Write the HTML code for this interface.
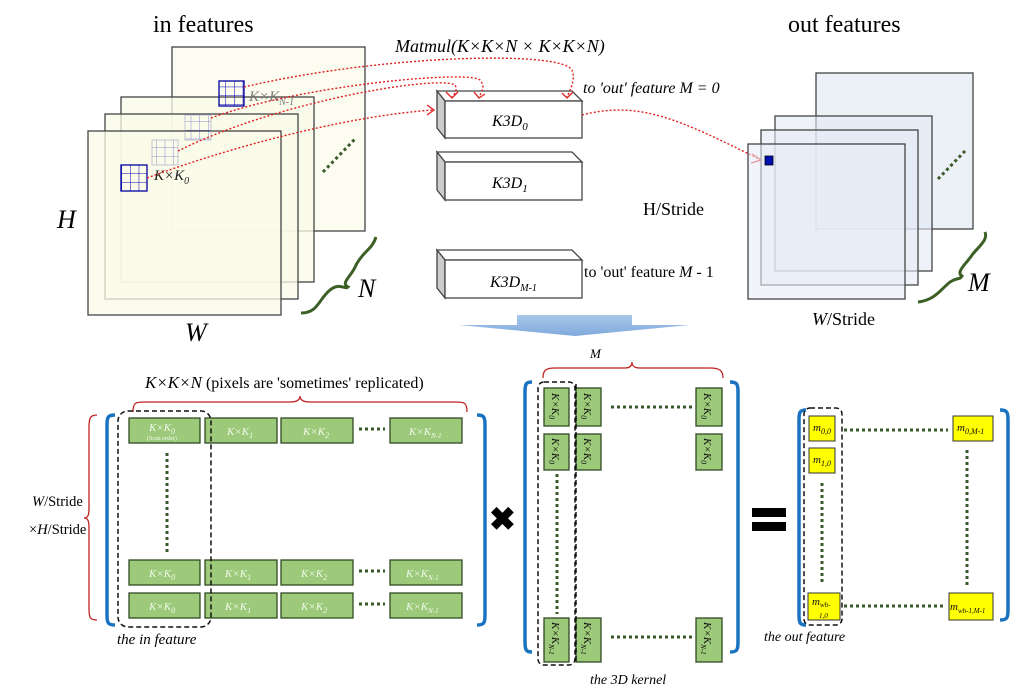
<!DOCTYPE html>
<html><head><meta charset="utf-8"><style>
html,body{margin:0;padding:0;background:#fff}
svg{display:block}
text{font-family:"Liberation Serif",serif}
.it{font-style:italic}
.gb{fill:#9cc97a;stroke:#2f4a22;stroke-width:1.3}
.gt{fill:#f4fbee;font-size:11px;font-style:italic}
.yb{fill:#ffff00;stroke:#333;stroke-width:1}
.dots{stroke:#3a5a2a;stroke-width:3;stroke-dasharray:3 3;fill:none}
.red{stroke:#e02020;stroke-width:1.4;stroke-dasharray:2 2;fill:none}
.blue{stroke:#1a73c0;stroke-width:3.5;fill:none}
.dash{stroke:#111;stroke-width:1.5;stroke-dasharray:5 3;fill:none}
</style></head><body>
<svg width="1030" height="696" viewBox="0 0 1030 696" xmlns="http://www.w3.org/2000/svg">
<defs>
<linearGradient id="ag" x1="0" y1="0" x2="0" y2="1"><stop offset="0" stop-color="#a9c8ea"/><stop offset="1" stop-color="#7fa9dc"/></linearGradient>
<pattern id="grid" width="8.67" height="8.67" patternUnits="userSpaceOnUse"><path d="M0 0H8.67M0 0V8.67" stroke="#0000b0" stroke-width="1" fill="none"/></pattern>
</defs>

<text x="153" y="32" font-size="24">in features</text>
<g stroke="#444" stroke-width="1.3">
<rect x="172" y="47" width="193" height="184" fill="#fbfbee" fill-opacity="0.8"/>
<rect x="121" y="97" width="193" height="185" fill="#fbfbe8" fill-opacity="0.75"/>
<rect x="105" y="114" width="193" height="185" fill="#fbfbe8" fill-opacity="0.75"/>
<rect x="88" y="131" width="193" height="184" fill="#fbfbe8" fill-opacity="0.75"/>
</g>
<rect x="219" y="81" width="25" height="25" fill="url(#grid)" stroke="#0000a0" stroke-width="1.3"/>
<rect x="185" y="115" width="26" height="25" fill="url(#grid)" stroke="#8080c0" opacity="0.45"/>
<rect x="152" y="140" width="26" height="25" fill="url(#grid)" stroke="#8080c0" opacity="0.45"/>
<rect x="121" y="165" width="26" height="26" fill="url(#grid)" stroke="#0000a0" stroke-width="1.3"/>
<text x="249" y="101" font-size="15" class="it" fill="#777">K×K<tspan font-size="10" dy="4">N-1</tspan></text>
<text x="154" y="180" font-size="15" class="it" fill="#222">K×K<tspan font-size="10" dy="4">0</tspan></text>
<line x1="323" y1="172" x2="355" y2="139" class="dots" stroke-width="2.5"/>
<text x="57" y="228" font-size="26" class="it">H</text>
<text x="185" y="341" font-size="26" class="it">W</text>
<text x="358" y="297" font-size="26" class="it">N</text>
<path d="M301 313 C318 313 318 300 330 290 C340 282 345 290 348 287 C340 283 352 276 356 265 C364 250 372 250 376 237" stroke="#3b5f25" stroke-width="3" fill="none"/>

<text x="395" y="52" font-size="18" class="it">Matmul(K×K×N × K×K×N)</text>

<g stroke="#444" stroke-width="1.3">
<path d="M437 91 L572 91 L582 101 L445 101 Z" fill="#fff"/>
<path d="M437 91 L445 101 L445 138 L437 128 Z" fill="#ccc"/>
<rect x="445" y="101" width="137" height="37" fill="#fff"/>
<path d="M437 152 L572 152 L582 162 L445 162 Z" fill="#fff"/>
<path d="M437 152 L445 162 L445 200 L437 190 Z" fill="#ccc"/>
<rect x="445" y="162" width="137" height="38" fill="#fff"/>
<path d="M437 250 L572 250 L582 260 L445 260 Z" fill="#fff"/>
<path d="M437 250 L445 260 L445 298 L437 288 Z" fill="#ccc"/>
<rect x="445" y="260" width="137" height="38" fill="#fff"/>
</g>
<text x="492" y="126" font-size="16" class="it">K3D<tspan font-size="11" dy="4">0</tspan></text>
<text x="492" y="188" font-size="16" class="it">K3D<tspan font-size="11" dy="4">1</tspan></text>
<text x="490" y="287" font-size="16" class="it">K3D<tspan font-size="10" dy="4">M-1</tspan></text>
<text x="583" y="93" font-size="16" class="it">to 'out' feature M = 0</text>
<text x="584" y="277" font-size="16">to 'out' feature <tspan class="it">M</tspan> - 1</text>
<text x="643" y="215" font-size="18">H/Stride</text>

<path class="red" d="M244 87 C380 55 560 50 572 70 C576 80 570 90 567 97"/>
<path class="red" d="M211 118 C300 85 470 70 480 80 C486 87 481 93 479 97"/>
<path class="red" d="M178 151 C280 100 440 75 455 85 C458 90 454 95 452 97"/>
<path class="red" d="M147 178 C250 140 360 115 433 110"/>
<path class="red" d="M582 115 C640 100 680 120 761 160"/>
<g stroke="#e02020" stroke-width="1.3" fill="none">
<path d="M446 92 L452 98 L458 92"/><path d="M474 92 L479 98 L485 94"/><path d="M562 93 L567 98 L573 92"/>
<path d="M427 105 L434 110 L427 115"/><path d="M752 154 L761 160 L751 163"/>
</g>

<text x="788" y="32" font-size="24">out features</text>
<g stroke="#444" stroke-width="1.3">
<rect x="816" y="73" width="157" height="156" fill="#e4ebf5" fill-opacity="0.7"/>
<rect x="775" y="116" width="157" height="155" fill="#e4ebf5" fill-opacity="0.6"/>
<rect x="761" y="130" width="157" height="155" fill="#e4ebf5" fill-opacity="0.6"/>
<rect x="748" y="144" width="157" height="155" fill="#e8edf6" fill-opacity="0.6"/>
</g>
<rect x="765" y="156" width="8" height="9" fill="#0010b0" stroke="#001" stroke-width="0.8"/>
<line x1="938" y1="179" x2="965" y2="151" class="dots" stroke-width="2.5"/>
<path d="M918 302 C935 300 940 290 950 282 C958 277 960 280 962 276 C955 272 968 262 972 255 C980 245 988 240 985 232" stroke="#3b5f25" stroke-width="3" fill="none"/>
<text x="968" y="291" font-size="26" class="it">M</text>
<text x="812" y="325" font-size="18"><tspan class="it">W</tspan>/Stride</text>

<path d="M517 315 H632 V325 H690 L575 336 L459 325 H517 Z" fill="url(#ag)"/>

<text x="145" y="388" font-size="16"><tspan class="it" font-size="17">K×K×N</tspan> (pixels are 'sometimes' replicated)</text>
<path d="M133 412 C133 402 136 402 145 402 L290 402 C297 402 300 400 300 396 C300 400 303 402 310 402 L455 402 C464 402 467 402 467 412" stroke="#c02020" stroke-width="1.3" fill="none"/>
<path d="M97 415 C90 415 89 418 89 428 L89 508 C89 515 88 518 84 518 C88 518 89 521 89 528 L89 608 C89 618 90 620 97 620" stroke="#c02020" stroke-width="1.3" fill="none"/>
<text x="32" y="506" font-size="14.5"><tspan class="it">W</tspan>/Stride</text>
<text x="29" y="534" font-size="14.5">×<tspan class="it">H</tspan>/Stride</text>
<path class="blue" d="M115 415 C108 415 107 417 107 425 L107 615 C107 623 108 625 115 625"/>
<path class="blue" d="M477 415 C484 415 485 417 485 425 L485 615 C485 623 484 625 477 625"/>
<g>
<rect class="gb" x="129" y="418" width="71" height="25"/>
<rect class="gb" x="205" y="418" width="72" height="25"/>
<rect class="gb" x="281" y="418" width="72" height="25"/>
<rect class="gb" x="390" y="418" width="72" height="25"/>
<rect class="gb" x="129" y="560" width="71" height="25"/>
<rect class="gb" x="205" y="560" width="72" height="25"/>
<rect class="gb" x="281" y="560" width="72" height="25"/>
<rect class="gb" x="390" y="560" width="72" height="25"/>
<rect class="gb" x="129" y="593" width="71" height="25"/>
<rect class="gb" x="205" y="593" width="72" height="25"/>
<rect class="gb" x="281" y="593" width="72" height="25"/>
<rect class="gb" x="390" y="593" width="72" height="25"/>
</g>
<text class="gt" x="149" y="431">K×K<tspan font-size="8" dy="3">0</tspan></text>
<text x="147" y="440" font-size="6" fill="#f4fbee">(Scan order)</text>
<text class="gt" x="227" y="435">K×K<tspan font-size="8" dy="3">1</tspan></text>
<text class="gt" x="303" y="435">K×K<tspan font-size="8" dy="3">2</tspan></text>
<text class="gt" x="409" y="435">K×K<tspan font-size="7" dy="3">N-1</tspan></text>
<text class="gt" x="149" y="577">K×K<tspan font-size="8" dy="3">0</tspan></text>
<text class="gt" x="225" y="577">K×K<tspan font-size="8" dy="3">1</tspan></text>
<text class="gt" x="301" y="577">K×K<tspan font-size="8" dy="3">2</tspan></text>
<text class="gt" x="406" y="577">K×K<tspan font-size="7" dy="3">N-1</tspan></text>
<text class="gt" x="149" y="610">K×K<tspan font-size="8" dy="3">0</tspan></text>
<text class="gt" x="225" y="610">K×K<tspan font-size="8" dy="3">1</tspan></text>
<text class="gt" x="301" y="610">K×K<tspan font-size="8" dy="3">2</tspan></text>
<text class="gt" x="406" y="610">K×K<tspan font-size="7" dy="3">N-1</tspan></text>
<line class="dots" x1="359" y1="429" x2="385" y2="429"/>
<line class="dots" x1="359" y1="571" x2="385" y2="571"/>
<line class="dots" x1="359" y1="604" x2="385" y2="604"/>
<line class="dots" x1="167" y1="453" x2="167" y2="552"/>
<rect class="dash" x="118" y="411" width="93" height="216" rx="10"/>
<text x="117" y="644" font-size="15" class="it">the in feature</text>

<text x="489" y="530" font-size="32" font-weight="bold" font-family="DejaVu Sans, sans-serif">✖</text>

<text x="590" y="358" font-size="13" class="it">M</text>
<path d="M543 378 C543 370 546 368 555 368 L625 368 C630 368 632 366 632 362 C632 366 634 368 640 368 L710 368 C719 368 723 370 723 378" stroke="#c02020" stroke-width="1.3" fill="none"/>
<path class="blue" d="M532 382 C526 382 525 384 525 392 L525 642 C525 650 526 652 532 652"/>
<path class="blue" d="M730 382 C737 382 738 384 738 392 L738 642 C738 650 737 652 730 652"/>
<g>
<rect class="gb" x="544" y="388" width="25" height="38"/>
<rect class="gb" x="576" y="388" width="25" height="38"/>
<rect class="gb" x="696" y="388" width="26" height="38"/>
<rect class="gb" x="544" y="434" width="25" height="36"/>
<rect class="gb" x="576" y="434" width="25" height="36"/>
<rect class="gb" x="696" y="434" width="26" height="36"/>
<rect class="gb" x="544" y="618" width="25" height="44"/>
<rect class="gb" x="576" y="618" width="25" height="44"/>
<rect class="gb" x="696" y="618" width="26" height="44"/>
</g>
<g font-size="11" class="it" fill="#111">
<text transform="translate(552,393) rotate(90)">K×K<tspan font-size="8" dy="3">0</tspan></text>
<text transform="translate(584,393) rotate(90)">K×K<tspan font-size="8" dy="3">0</tspan></text>
<text transform="translate(704,393) rotate(90)">K×K<tspan font-size="8" dy="3">0</tspan></text>
<text transform="translate(552,438) rotate(90)">K×K<tspan font-size="8" dy="3">0</tspan></text>
<text transform="translate(584,438) rotate(90)">K×K<tspan font-size="8" dy="3">0</tspan></text>
<text transform="translate(704,438) rotate(90)">K×K<tspan font-size="8" dy="3">0</tspan></text>
<text transform="translate(552,622) rotate(90)">K×K<tspan font-size="7" dy="3">N-1</tspan></text>
<text transform="translate(584,622) rotate(90)">K×K<tspan font-size="7" dy="3">N-1</tspan></text>
<text transform="translate(704,622) rotate(90)">K×K<tspan font-size="7" dy="3">N-1</tspan></text>
</g>
<line class="dots" x1="611" y1="407" x2="693" y2="407"/>
<line class="dots" x1="611" y1="637" x2="693" y2="637"/>
<line class="dots" x1="557" y1="474" x2="557" y2="614"/>
<rect class="dash" x="538" y="382" width="37" height="283" rx="6"/>
<line class="dash" x1="576" y1="384" x2="576" y2="662"/>
<text x="590" y="684" font-size="14" class="it">the 3D kernel</text>

<rect x="752" y="508" width="34" height="9" fill="#000"/>
<rect x="752" y="522" width="34" height="9" fill="#000"/>

<path class="blue" d="M806 410 C800 410 799 412 799 420 L799 615 C799 623 800 625 806 625"/>
<path class="blue" d="M1000 410 C1007 410 1008 412 1008 420 L1008 610 C1008 618 1007 620 1000 620"/>
<rect class="yb" x="809" y="416" width="26" height="25"/>
<rect class="yb" x="809" y="448" width="26" height="25"/>
<rect class="yb" x="808" y="593" width="32" height="27"/>
<rect class="yb" x="953" y="416" width="40" height="25"/>
<rect class="yb" x="949" y="593" width="44" height="27"/>
<g font-size="11" class="it" fill="#111">
<text x="813" y="431">m<tspan font-size="8" dy="3">0,0</tspan></text>
<text x="813" y="463">m<tspan font-size="8" dy="3">1,0</tspan></text>
<text x="812" y="605">m<tspan font-size="7" dy="2">wh-</tspan></text>
<text x="819" y="618" font-size="7">1,0</text>
<text x="957" y="431">m<tspan font-size="8" dy="3">0,M-1</tspan></text>
<text x="950" y="610">m<tspan font-size="7" dy="3">wh-1,M-1</tspan></text>
</g>
<line class="dots" x1="844" y1="430" x2="948" y2="430"/>
<line class="dots" x1="844" y1="606" x2="946" y2="606"/>
<line class="dots" x1="822" y1="483" x2="822" y2="585"/>
<line class="dots" x1="967" y1="450" x2="967" y2="585"/>
<rect class="dash" x="804" y="408" width="38" height="217" rx="6"/>
<text x="764" y="641" font-size="14" class="it">the out feature</text>
</svg>
</body></html>
